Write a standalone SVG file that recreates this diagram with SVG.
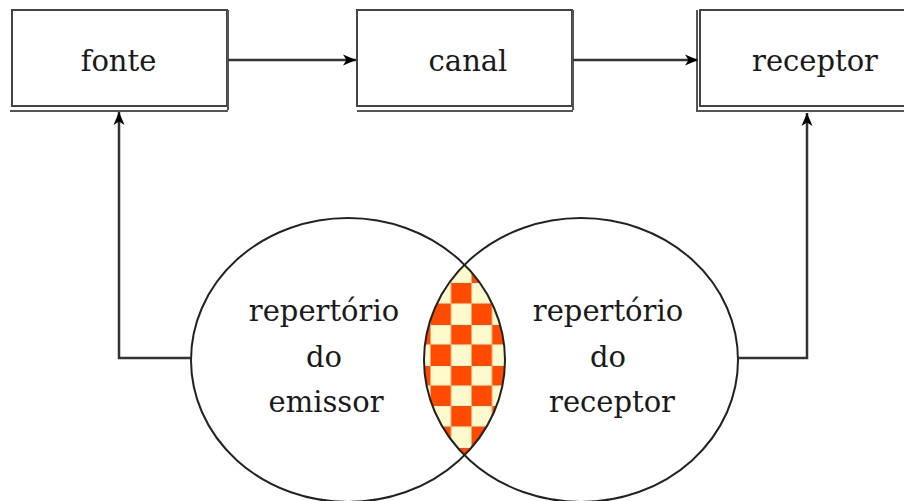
<svg xmlns="http://www.w3.org/2000/svg" width="904" height="501" viewBox="0 0 904 501">
<style>
.box{fill:#fff;stroke:#444;stroke-width:2}
.shadow{stroke:#555;stroke-width:2;fill:none}
.lbl{font-family:"DejaVu Serif","Liberation Serif",serif;font-size:29px;fill:#1a1a1a;text-anchor:middle}
.conn{fill:none;stroke:#333;stroke-width:2.5}
.circ{fill:none;stroke:#222;stroke-width:2}
</style>
<defs>
<marker id="arr" markerWidth="14" markerHeight="12" refX="13" refY="6" orient="auto" markerUnits="userSpaceOnUse">
<path d="M0,0.5 L13,6 L0,11.5 L3.5,6 Z" fill="#000"/>
</marker>
<pattern id="check" patternUnits="userSpaceOnUse" x="430.5" y="283" width="41" height="41">
<rect width="41" height="41" fill="#FFFACD"/>
<rect x="20.5" y="0" width="20.5" height="20.5" fill="#FF4A00"/>
<rect x="0" y="20.5" width="20.5" height="20.5" fill="#FF4A00"/>
</pattern>
</defs>
<rect width="904" height="501" fill="#fff"/>
<g id="fonte">
<rect class="box" x="12" y="10" width="215" height="96"/>
<path class="shadow" d="M10,111 H228 M228,10 V110"/>
<text class="lbl" x="118.5" y="71">fonte</text>
</g>
<g id="canal">
<rect class="box" x="357" y="10" width="215" height="96"/>
<path class="shadow" d="M357,111 H573 M573,10 V110"/>
<text class="lbl" x="468" y="71">canal</text>
</g>
<g id="receptor">
<rect class="box" x="700" y="10" width="215" height="96"/>
<path class="shadow" d="M697,10 V111 H910"/>
<text class="lbl" x="815" y="71">receptor</text>
</g>
<g id="intersecao">
<path d="M464.5,264.8 A157,142 0 0 1 464.5,455.2 A157,142 0 0 1 464.5,264.8 Z" fill="url(#check)"/>
</g>
<g id="repertorio-emissor">
<ellipse class="circ" cx="348" cy="360" rx="157" ry="142"/>
<text class="lbl" x="324" y="321">repertório</text>
<text class="lbl" x="324" y="367">do</text>
<text class="lbl" x="326" y="412">emissor</text>
</g>
<g id="repertorio-receptor">
<ellipse class="circ" cx="581" cy="360" rx="157" ry="142"/>
<text class="lbl" x="608" y="321">repertório</text>
<text class="lbl" x="608" y="367">do</text>
<text class="lbl" x="612" y="412">receptor</text>
</g>
<g id="connectors">
<path class="conn" d="M228,60 H356" marker-end="url(#arr)"/>
<path class="conn" d="M573,60 H698" marker-end="url(#arr)"/>
<path class="conn" d="M191,358 H119 V112" marker-end="url(#arr)"/>
<path class="conn" d="M738,358 H807 V113" marker-end="url(#arr)"/>
</g>
</svg>
